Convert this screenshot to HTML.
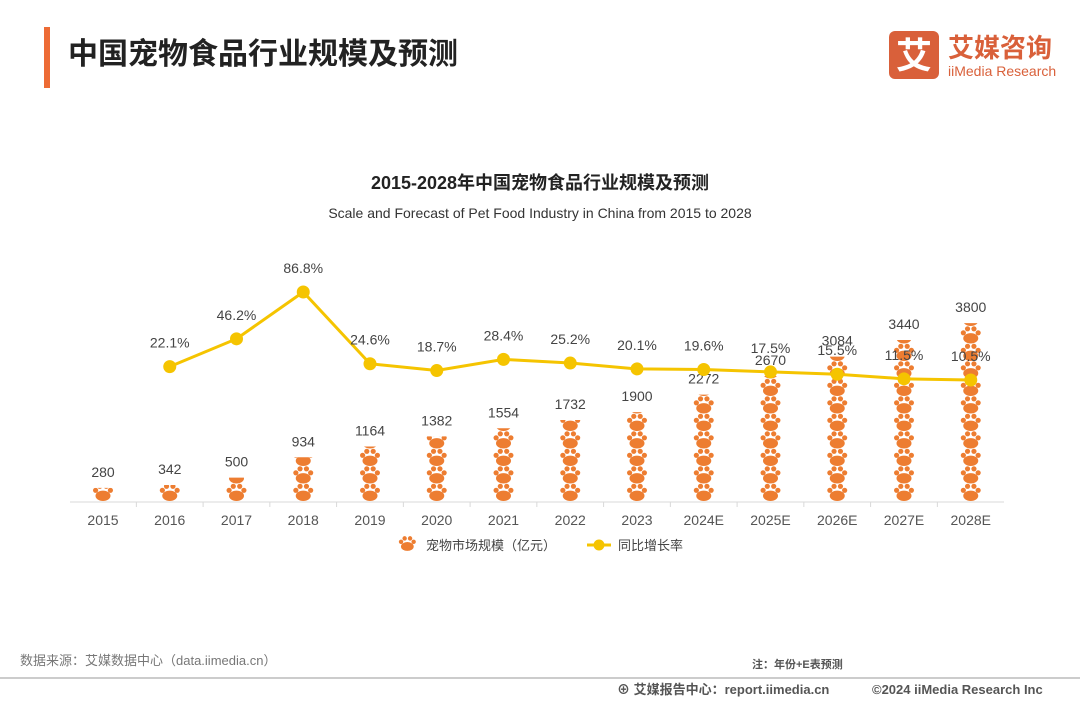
<!DOCTYPE html>
<html><head><meta charset="utf-8"><style>
body{margin:0;width:1080px;height:702px;background:#fff;overflow:hidden;font-family:"Liberation Sans","Noto Sans CJK SC",sans-serif}
</style></head><body>
<svg width="1080" height="702" xmlns="http://www.w3.org/2000/svg" font-family="Liberation Sans, Noto Sans CJK SC, sans-serif">
<defs id="defs">
<g id="pawshape" fill="#ED7D31">
<ellipse cx="11" cy="12.3" rx="7.5" ry="5.2"/>
<circle cx="3.6" cy="6.8" r="2.6"/><circle cx="18.4" cy="6.8" r="2.6"/>
<circle cx="7.8" cy="2.8" r="2.6"/><circle cx="14.2" cy="2.8" r="2.6"/>
</g>
</defs>
<rect x="44" y="27" width="6" height="61" fill="#ED6B35"/>
<text x="68" y="64" font-size="30" font-weight="bold" fill="#222">中国宠物食品行业规模及预测</text>
<g>
<rect x="889" y="31" width="50" height="48" rx="6" fill="#D9603A"/>
<text x="914" y="68" font-size="36" font-weight="bold" fill="#fff" text-anchor="middle">艾</text>
<text x="948" y="57" font-size="26" font-weight="bold" fill="#D9603A">艾媒咨询</text>
<text x="948" y="76" font-size="14" fill="#D9603A">iiMedia Research</text>
</g>
<text x="540" y="189" font-size="18" font-weight="bold" fill="#222" text-anchor="middle">2015-2028年中国宠物食品行业规模及预测</text>
<text x="540" y="218" font-size="14" fill="#333" text-anchor="middle">Scale and Forecast of Pet Food Industry in China from 2015 to 2028</text>
<line x1="70" y1="502" x2="1004" y2="502" stroke="#d9d9d9"/>
<g id="chart"></g>
<g font-size="13" fill="#444">
<use href="#pawshape" transform="translate(398,536) scale(0.85)"/>
<text x="426" y="550">宠物市场规模（亿元）</text>
<line x1="587" y1="545" x2="611" y2="545" stroke="#F5C400" stroke-width="3"/>
<circle cx="599" cy="545" r="5.5" fill="#F5C400"/>
<text x="618" y="550">同比增长率</text>
</g>
<text x="20" y="665" font-size="13" fill="#777">数据来源：艾媒数据中心（data.iimedia.cn）</text>
<text x="752" y="668" font-size="11" font-weight="bold" fill="#555">注：年份+E表预测</text>
<line x1="0" y1="678" x2="1080" y2="678" stroke="#999"/>
<text x="617" y="694" font-size="13" font-weight="bold" fill="#555">⊕ 艾媒报告中心：report.iimedia.cn</text>
<text x="872" y="694" font-size="13" font-weight="bold" fill="#555">©2024  iiMedia Research  Inc</text>
</svg>
<script>
const categories=["2015","2016","2017","2018","2019","2020","2021","2022","2023","2024E","2025E","2026E","2027E","2028E"];
const scaleValues=[280,342,500,934,1164,1382,1554,1732,1900,2272,2670,3084,3440,3800];
const growthValues=[null,22.1,46.2,86.8,24.6,18.7,28.4,25.2,20.1,19.6,17.5,15.5,11.5,10.5];
const NS="http://www.w3.org/2000/svg";
const g=document.getElementById('chart');
const defs=document.getElementById('defs');
const xPos=i=>103+i*66.75;
const yBar=v=>501-v*0.0468;
const yLine=v=>392.1-v*1.153;
const PH=17.5;
function mk(t,a,p){const e=document.createElementNS(NS,t);for(const k in a)e.setAttribute(k,a[k]);(p||g).appendChild(e);return e;}
categories.forEach((c,i)=>{
  const top=yBar(scaleValues[i]);
  const cp=mk('clipPath',{id:'cp'+i},defs);
  mk('rect',{x:xPos(i)-12,y:top,width:24,height:501-top},cp);
  const bg=mk('g',{'clip-path':'url(#cp'+i+')'});
  
  
  for(let y=501-PH;y>top-PH;y-=PH){
    mk('use',{href:'#pawshape',transform:'translate('+(xPos(i)-11)+','+y+')'},bg);
  }
  const t=mk('text',{x:xPos(i),y:top-11,'font-size':14,fill:'#444','text-anchor':'middle'});
  t.textContent=scaleValues[i];
  
  
  const xl=mk('text',{x:xPos(i),y:525,'font-size':14,fill:'#555','text-anchor':'middle'});
  xl.textContent=c;
  
  
  if(i>0){const tk=mk('line',{x1:xPos(i)-33.4,y1:502,x2:xPos(i)-33.4,y2:507,stroke:'#d9d9d9'});
  
  }
});
let pts=[];
growthValues.forEach((v,i)=>{if(v!==null)pts.push([xPos(i),yLine(v),v,categories[i]]);});
const pl=mk('polyline',{points:pts.map(p=>p[0]+','+p[1]).join(' '),fill:'none',stroke:'#F5C400','stroke-width':3});


pts.forEach(p=>{
  const c=mk('circle',{cx:p[0],cy:p[1],r:6.5,fill:'#F5C400'});
  
  
  const t=mk('text',{x:p[0],y:p[1]-19,'font-size':14,fill:'#444','text-anchor':'middle'});
  t.textContent=p[2].toFixed(1)+'%';
  
  
});
</script>
</body></html>
